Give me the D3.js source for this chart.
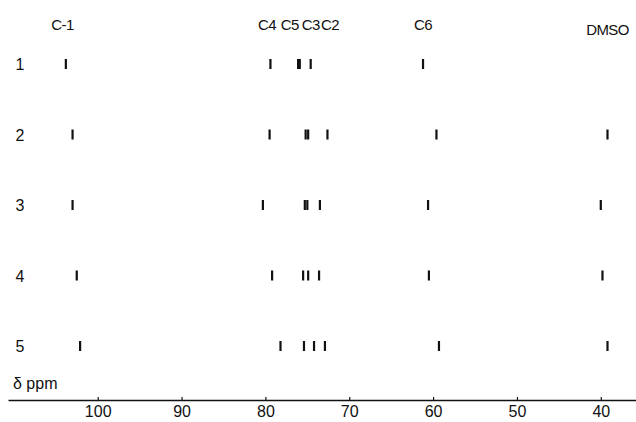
<!DOCTYPE html>
<html>
<head>
<meta charset="utf-8">
<script src="https://cdn.jsdelivr.net/npm/d3@7"></script>
<style>
  html, body { margin: 0; padding: 0; background: #fff; }
  svg { display: block; }
  text { font-family: "Liberation Sans", "DejaVu Sans", sans-serif; fill: #111; }
</style>
</head>
<body>
<script>
// 13C chemical shifts (ppm) for spectra 1–5
const spectra = ["1", "2", "3", "4", "5"];
const shifts1 = [103.8, 79.4, 76.1, 75.9, 74.6, 61.2];
const shifts2 = [103.0, 79.5, 75.2, 74.9, 72.6, 59.6, 39.2];
const shifts3 = [103.0, 80.3, 75.3, 75.0, 73.5, 60.6, 40.0];
const shifts4 = [102.5, 79.2, 75.5, 74.9, 73.6, 60.5, 39.8];
const shifts5 = [102.1, 78.2, 75.4, 74.2, 72.9, 59.3, 39.2];

// carbon assignments written along the top
const assignLabels = ["C-1", "C4", "C5", "C3", "C2", "C6", "DMSO"];
const assignPpm = [104.2, 79.8, 77.1, 74.6, 72.3, 61.2, 39.2];

// axis ticks
const tickValues = [100, 90, 80, 70, 60, 50, 40];

const W = 636, H = 422;
const svg = d3.select("body").append("svg").attr("width", W).attr("height", H);

// chemical shift runs right-to-left
const x = d3.scaleLinear().domain([110.7, 35.8]).range([8, 636]);
const y = d3.scalePoint().domain(spectra).range([64, 346]);

const rows = spectra.map((s, i) => ({ id: s, shifts: [shifts1, shifts2, shifts3, shifts4, shifts5][i] }));

// spectrum number at the left of each row
svg.selectAll("text.row")
  .data(rows)
  .join("text")
  .attr("class", "row")
  .attr("x", 20)
  .attr("y", d => y(d.id) + 6)
  .attr("text-anchor", "middle")
  .attr("font-size", 16)
  .text(d => d.id);

// peak sticks
const peaks = rows.flatMap(r => r.shifts.map(p => ({ row: r.id, ppm: p })));
svg.selectAll("rect.peak")
  .data(peaks)
  .join("rect")
  .attr("class", "peak")
  .attr("x", d => x(d.ppm) - 1.1)
  .attr("y", d => y(d.row) - 5)
  .attr("width", 2.2)
  .attr("height", 10)
  .attr("fill", "#111");

// assignment labels
svg.selectAll("text.assign")
  .data(assignLabels.map((t, i) => ({ t, ppm: assignPpm[i] })))
  .join("text")
  .attr("class", "assign")
  .attr("x", d => x(d.ppm))
  .attr("y", d => d.t === "DMSO" ? 35 : 30)
  .attr("text-anchor", "middle")
  .attr("font-size", 15)
  .attr("letter-spacing", -0.6)
  .text(d => d.t);

// shift axis
const axis = d3.axisBottom(x)
  .tickValues(tickValues)
  .tickSizeInner(-3)
  .tickSizeOuter(0)
  .tickPadding(6);

const gAxis = svg.append("g").attr("transform", "translate(0,400)").call(axis);
gAxis.select(".domain").attr("stroke", "#111").attr("stroke-width", 1.6);
gAxis.selectAll(".tick line").attr("stroke", "#111").attr("stroke-width", 1.2);
gAxis.selectAll(".tick text")
  .attr("font-size", 16)
  .attr("font-family", "Liberation Sans, DejaVu Sans, sans-serif")
  .attr("fill", "#111")
  .attr("dy", "0.71em");

svg.append("text")
  .attr("x", 13)
  .attr("y", 389)
  .attr("font-size", 16)
  .text("δ ppm");
</script>
</body>
</html>
